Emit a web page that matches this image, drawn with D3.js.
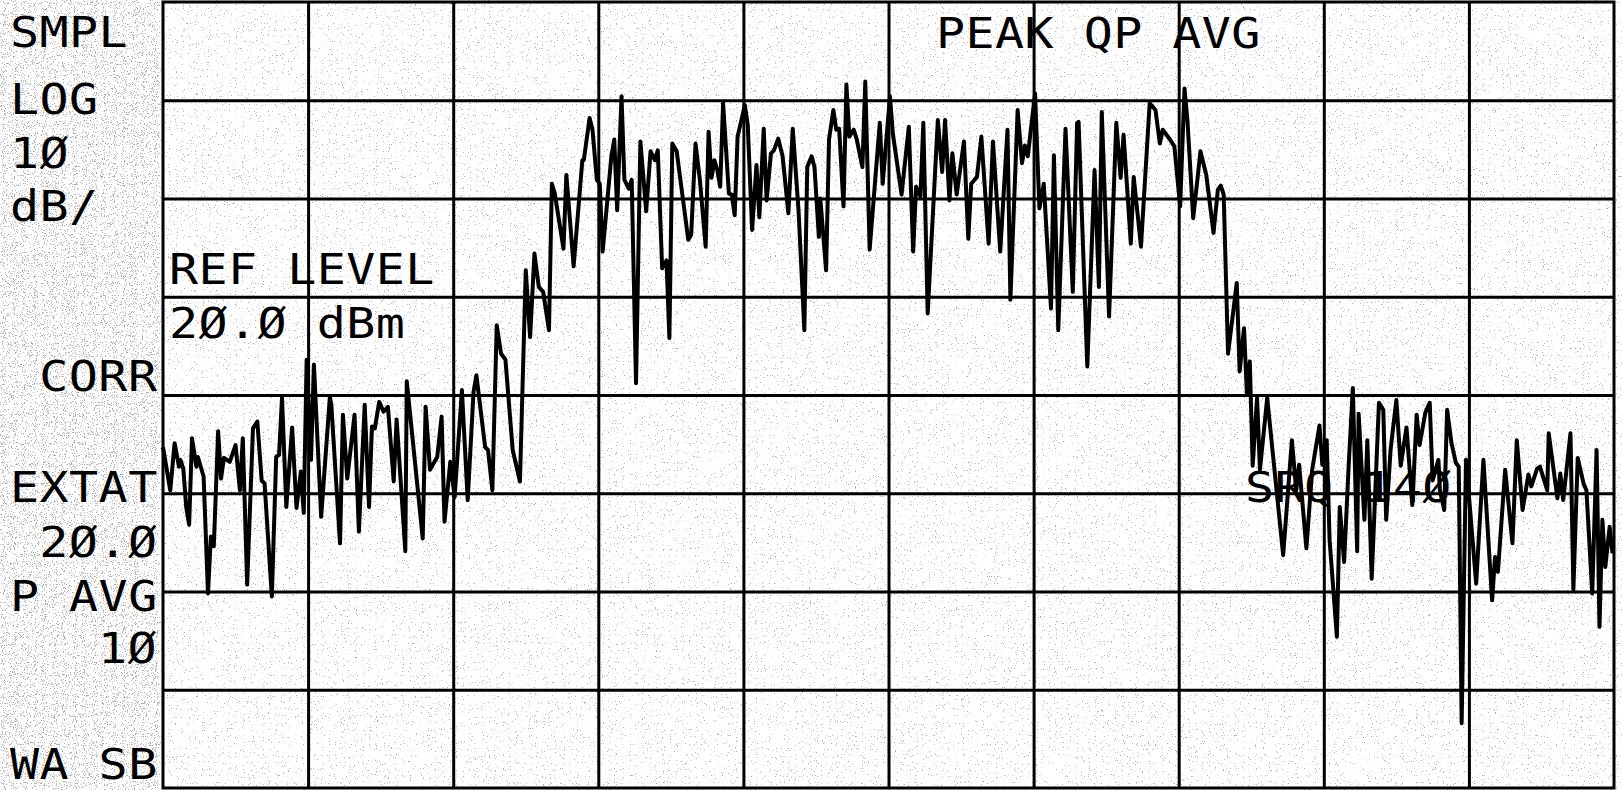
<html>
<script src="https://d3js.org/d3.v7.min.js"></script>
<style>
  body { margin: 0; background: #fff; }
  text { font-family: "DejaVu Sans Mono", monospace; font-size: 42px; letter-spacing: 0.4px; fill: #000; }
</style>
<body>
<svg width="1622" height="790"></svg>
<script>
// screen annotations (analyzer soft labels)
var sideLabels = ["SMPL", "LOG", "1Ø", "dB/", "CORR", "EXTAT", "2Ø.Ø", "P AVG", "1Ø", "WA SB"];
var refLabel = ["REF LEVEL", "2Ø.Ø dBm"];
var detectorLabel = "PEAK QP AVG";
var srqLabel = "SRQ 14Ø";

var refLevel = 20;      // dBm, top graticule line
var dbPerDiv = 10;
var yDivs = 8;
var xDivs = 10;

// trace vertices: horizontal position in graticule divisions, level in dBm
var freqDiv = [0.00,0.05,0.08,0.11,0.12,0.14,0.16,0.18,0.20,0.23,0.24,0.26,0.28,0.31,0.33,0.35,0.38,0.40,0.42,0.46,
  0.50,0.53,0.55,0.58,0.62,0.65,0.68,0.70,0.75,0.78,0.80,0.82,0.85,0.89,0.92,0.95,0.97,0.99,1.02,1.04,
  1.09,1.15,1.16,1.22,1.24,1.27,1.32,1.35,1.39,1.42,1.44,1.46,1.49,1.52,1.55,1.59,1.61,1.67,1.68,1.79,
  1.81,1.84,1.89,1.92,1.94,1.98,2.01,2.06,2.10,2.14,2.16,2.22,2.24,2.27,2.30,2.33,2.36,2.41,2.46,2.50,
  2.53,2.56,2.59,2.62,2.66,2.68,2.70,2.76,2.78,2.83,2.89,2.90,2.94,2.96,2.99,3.01,3.03,3.09,3.11,3.13,
  3.16,3.18,3.21,3.23,3.26,3.29,3.33,3.36,3.39,3.41,3.44,3.47,3.49,3.51,3.54,3.62,3.64,3.67,3.70,3.74,
  3.76,3.78,3.80,3.82,3.84,3.86,3.90,3.92,3.94,3.96,4.01,4.03,4.06,4.09,4.11,4.14,4.16,4.19,4.21,4.24,
  4.27,4.31,4.34,4.38,4.42,4.44,4.47,4.49,4.52,4.53,4.57,4.59,4.62,4.64,4.66,4.69,4.71,4.73,4.76,4.78,
  4.82,4.84,4.87,4.94,4.96,5.01,5.03,5.09,5.14,5.17,5.19,5.22,5.24,5.27,5.34,5.37,5.39,5.42,5.44,5.47,
  5.52,5.55,5.57,5.61,5.64,5.69,5.72,5.77,5.82,5.84,5.89,5.92,5.94,5.96,6.01,6.04,6.07,6.12,6.14,6.17,
  6.22,6.27,6.30,6.31,6.37,6.42,6.45,6.47,6.52,6.57,6.60,6.62,6.67,6.69,6.74,6.80,6.84,6.87,6.89,6.94,
  6.97,7.01,7.04,7.06,7.10,7.15,7.19,7.24,7.27,7.29,7.31,7.34,7.40,7.42,7.45,7.47,7.49,7.51,7.54,7.56,
  7.61,7.66,7.72,7.78,7.81,7.83,7.88,7.92,7.97,7.99,8.02,8.04,8.09,8.11,8.14,8.17,8.20,8.23,8.24,8.28,
  8.30,8.33,8.38,8.41,8.43,8.46,8.50,8.53,8.57,8.61,8.64,8.66,8.70,8.73,8.75,8.79,8.80,8.83,8.85,8.88,
  8.91,8.93,8.95,8.98,9.05,9.10,9.16,9.18,9.20,9.25,9.30,9.33,9.37,9.41,9.43,9.47,9.49,9.54,9.55,9.61,
  9.63,9.65,9.70,9.72,9.75,9.79,9.81,9.85,9.88,9.90,9.92,9.94,9.97,9.99];

var levelDbm = [-25.3,-29.7,-24.9,-27.3,-26.6,-27.5,-31.4,-33.2,-24.4,-27.3,-26.3,-27.3,-28.3,-40.2,-34.4,-35.4,-23.7,-28.5,-26.4,-26.8,
  -25.1,-29.7,-24.4,-39.3,-23.4,-22.7,-28.7,-29.0,-40.5,-26.3,-26.1,-20.3,-31.4,-23.3,-31.5,-27.8,-32.0,-16.4,-26.6,-16.9,
  -32.4,-20.2,-21.0,-35.1,-22.0,-28.5,-22.0,-33.9,-21.0,-31.4,-23.2,-23.4,-20.7,-21.7,-21.2,-28.8,-22.5,-35.9,-18.6,-34.6,
  -21.2,-27.6,-26.3,-22.2,-32.9,-26.8,-30.4,-19.5,-30.7,-19.7,-18.0,-25.3,-25.6,-29.7,-12.9,-15.8,-16.4,-25.6,-28.8,-7.3,
  -14.1,-5.6,-9.0,-9.5,-13.4,1.5,0.5,-5.1,2.4,-6.9,3.9,3.9,8.2,7.0,1.9,1.5,-5.4,4.3,6.0,-1.2,
  10.4,1.9,1.0,1.9,-18.8,5.8,-1.3,4.8,3.9,4.9,-7.1,-6.3,-14.2,5.6,4.8,-4.2,-3.7,5.6,1.9,-4.9,
  6.8,2.1,3.9,2.9,1.2,9.7,0.5,0.4,-1.7,6.3,9.5,7.5,-3.2,3.4,-1.9,7.1,-0.2,4.6,4.9,6.1,
  4.3,-1.5,7.1,-1.2,-13.4,3.2,4.3,3.2,-3.9,0.0,-7.3,6.0,9.0,7.0,7.1,-0.8,11.6,6.3,7.0,6.1,
  3.2,11.9,-5.2,7.7,1.5,10.4,6.6,0.4,7.3,-5.4,1.2,0.2,7.7,-11.7,8.0,2.7,8.0,-0.2,4.6,0.4,
  5.8,-4.1,1.5,2.2,6.3,-4.6,5.8,-5.4,7.0,-10.3,9.0,3.6,5.4,4.3,10.7,-1.0,1.5,-11.2,4.4,-13.4,
  7.1,-9.5,7.7,7.8,-17.1,2.9,-9.0,8.8,-12.0,7.7,2.1,6.5,-4.6,2.2,-4.9,9.7,9.0,5.6,7.0,6.0,
  5.3,-0.8,11.2,8.0,-2.0,4.8,2.4,-3.5,0.9,1.3,0.4,-15.8,-8.6,-17.6,-13.2,-19.8,-16.6,-27.2,-20.3,-27.6,
  -20.3,-27.6,-36.3,-24.6,-29.7,-27.1,-35.6,-27.6,-23.1,-27.1,-24.6,-34.8,-44.6,-31.4,-37.0,-27.6,-19.3,-35.9,-21.9,-32.7,
  -24.6,-38.7,-20.8,-21.5,-32.7,-25.6,-20.5,-27.2,-23.3,-31.2,-22.0,-25.1,-21.8,-20.8,-28.7,-26.6,-29.7,-31.7,-21.5,-24.9,
  -26.9,-27.3,-53.4,-26.6,-39.2,-26.6,-40.9,-36.5,-38.0,-27.6,-35.1,-24.6,-31.7,-28.1,-29.3,-27.5,-27.3,-29.7,-23.9,-30.5,
  -28.0,-30.7,-23.9,-39.8,-26.4,-29.0,-29.7,-40.2,-25.6,-43.6,-32.7,-37.5,-33.4,-36.1];

var trace = freqDiv.map(function(f, i) { return {f: f, db: levelDbm[i]}; });

var svg = d3.select("svg");

// scanned-paper speckle: sparse over the screen, heavier in the left margin
var defs = svg.append("defs");
function speckle(id, freq, seed, cut) {
  var f = defs.append("filter").attr("id", id).attr("x", 0).attr("y", 0).attr("width", "100%").attr("height", "100%");
  f.append("feTurbulence").attr("type", "fractalNoise").attr("baseFrequency", freq).attr("numOctaves", 2).attr("seed", seed);
  f.append("feColorMatrix").attr("type", "matrix")
    .attr("values", "0 0 0 0 0.3  0 0 0 0 0.3  0 0 0 0 0.3  14 0 0 0 " + (-cut));
}
speckle("speckle", 0.85, 7, 9.4);
speckle("speckleL", 0.9, 3, 8.6);
svg.append("rect").attr("width", 1622).attr("height", 790).attr("fill", "#fff");
svg.append("rect").attr("width", 1622).attr("height", 790).attr("filter", "url(#speckle)").attr("opacity", 0.75);
svg.append("rect").attr("width", 160).attr("height", 790).attr("filter", "url(#speckleL)").attr("opacity", 0.75);

var x = d3.scaleLinear().domain([0, xDivs]).range([163, 1614]);
var y = d3.scaleLinear().domain([refLevel - yDivs * dbPerDiv, refLevel]).range([788, 2]);

// graticule
var gx = svg.append("g").attr("transform", "translate(0," + y.range()[0] + ")")
  .call(d3.axisBottom(x).tickValues(d3.range(1, xDivs)).tickSize(-(y.range()[0] - y.range()[1])).tickFormat(""));
var gy = svg.append("g").attr("transform", "translate(" + x.range()[0] + ",0)")
  .call(d3.axisLeft(y).tickValues(d3.range(1, yDivs).map(function(i) { return y.domain()[0] + i * dbPerDiv; }))
    .tickSize(-(x.range()[1] - x.range()[0])).tickFormat(""));
[gx, gy].forEach(function(g) {
  g.select(".domain").remove();
  g.selectAll(".tick line").attr("stroke", "#000").attr("stroke-width", 3);
});
svg.append("rect")
  .attr("x", x(0)).attr("y", y(refLevel))
  .attr("width", x(xDivs) - x(0)).attr("height", y(y.domain()[0]) - y(refLevel))
  .attr("fill", "none").attr("stroke", "#000").attr("stroke-width", 3);

// trace
svg.append("path")
  .datum(trace)
  .attr("fill", "none")
  .attr("stroke", "#000")
  .attr("stroke-width", 4)
  .attr("stroke-linejoin", "round")
  .attr("d", d3.line().x(function(d) { return x(d.f); }).y(function(d) { return y(d.db); }));

// labels: plotter font is wider than the mono face, so stretch horizontally
var sx = 1.15;
function put(sel, px, py) {
  sel.attr("transform", "translate(" + px + "," + py + ") scale(" + sx + ",1)");
}

// left soft-key column, fixed character cells
var cell = 29.3;
var sideCols = [0, 0, 0, 0, 1, 0, 1, 0, 3, 0];
var sideBase = [47, 114, 168, 221, 391, 502, 557, 611, 663, 779];
svg.append("g").selectAll("text")
  .data(sideLabels)
  .join("text")
  .each(function(d, i) { put(d3.select(this), 10 + sideCols[i] * cell, sideBase[i]); })
  .text(function(d) { return d; });

svg.append("g").selectAll("text")
  .data(refLabel)
  .join("text")
  .each(function(d, i) { put(d3.select(this), 169, [284, 338][i]); })
  .text(function(d) { return d; });

put(svg.append("text").text(detectorLabel), 936, 48);
put(svg.append("text").text(srqLabel), 1245, 502);
</script>
</body>
</html>
